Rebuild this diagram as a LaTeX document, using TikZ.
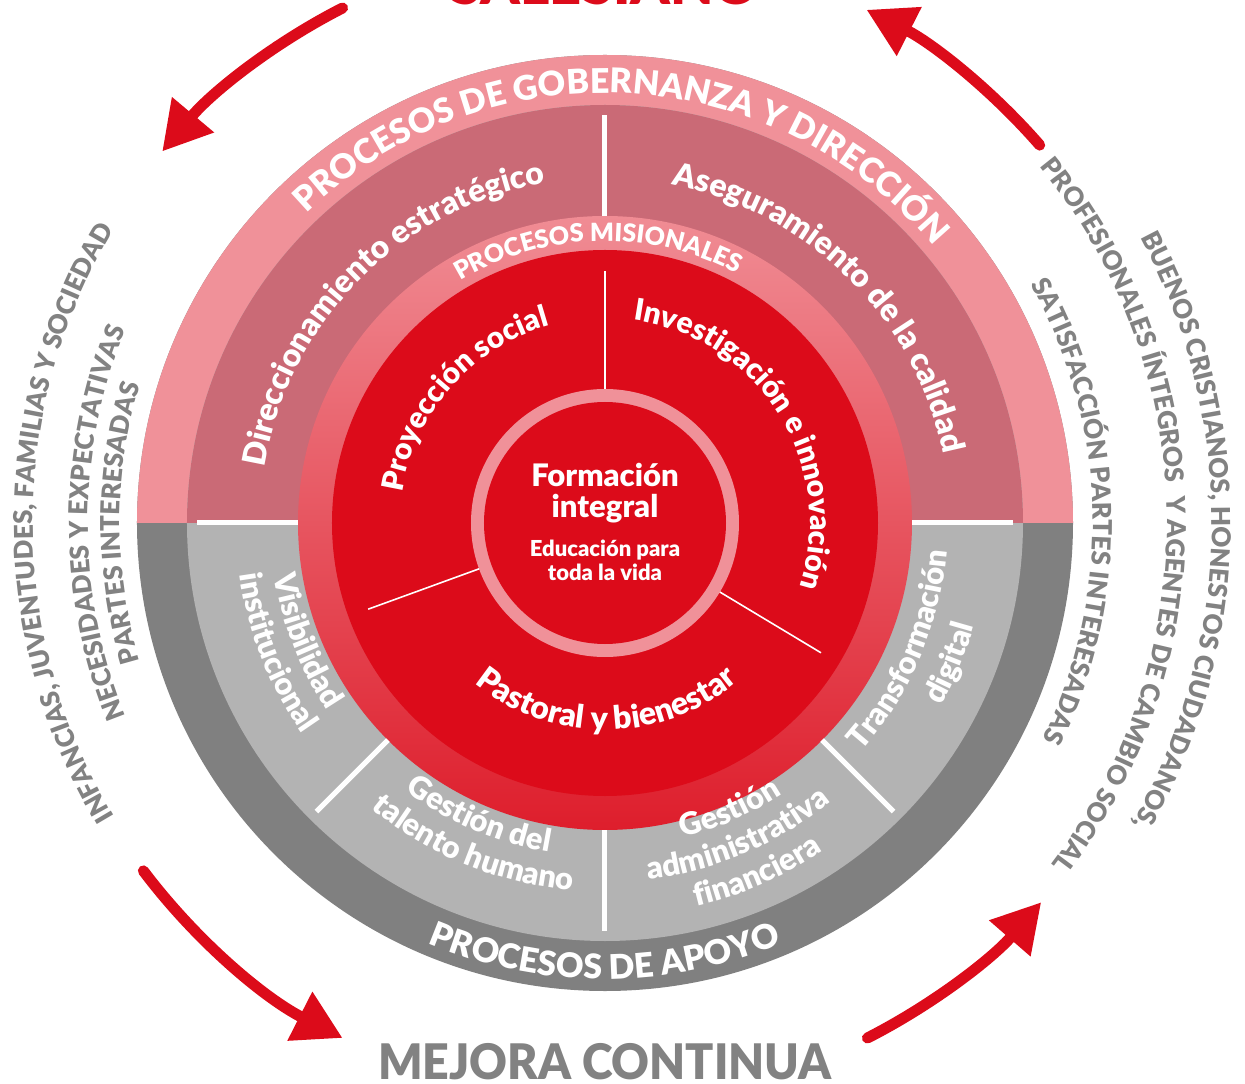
\documentclass[tikz,border=0pt]{standalone}
\usepackage{fontspec}
\setmainfont{Lato}
\IfFontExistsTF{Lato Black}{\newfontfamily\heavyfont{Lato Black}}{\newcommand\heavyfont{\bfseries}}
\usetikzlibrary{decorations.text,arrows.meta}

\definecolor{pinkL}{RGB}{240,145,153}
\definecolor{pinkD}{RGB}{202,106,118}
\definecolor{grayD}{RGB}{128,128,128}
\definecolor{grayL}{RGB}{179,179,179}
\definecolor{redM}{RGB}{220,11,26}
\definecolor{misTop}{RGB}{240,140,148}
\definecolor{misBot}{RGB}{222,30,44}
\definecolor{txtGray}{RGB}{130,130,130}

\newcommand\fsz[1]{\fontsize{#1}{#1}\selectfont\heavyfont}
% clockwise curved text: center angle, radius, size, colour, text
\newcommand\cwtext[5]{%
  \path[decorate,decoration={text along path,text align=center,text color=#4,
        text={|\fsz{#3}|#5}}]
    ({#1+80}:#2) arc[start angle={#1+80},end angle={#1-80},radius=#2];}
% counter-clockwise curved text
\newcommand\ccwtext[5]{%
  \path[decorate,decoration={text along path,text align=center,text color=#4,
        text={|\fsz{#3}|#5}}]
    ({#1-80}:#2) arc[start angle={#1-80},end angle={#1+80},radius=#2];}

\tikzset{
  redarrow/.style={draw=redM,line width=11pt,line cap=round,
                   -{Triangle[length=48pt 0,width=52pt 0]}},
  bigdiv/.style={draw=white,line width=5pt},
  smalldiv/.style={draw=white,line width=1.6pt},
  ctext/.style={text=white,inner sep=0pt,anchor=base},
}

\begin{document}
\begin{tikzpicture}[x=1pt,y=1pt]
\useasboundingbox (-605,-561) rectangle (640,523);
\fill[white] (-605,-561) rectangle (640,523);

% top title (cut off)
\node[font=\fsz{56},text=redM,inner sep=0pt,anchor=base] (sal) at (0,518) {SALESIANO};

% rings
\fill[grayD] (0,0) circle[radius=468];
\fill[pinkL] (468,0) arc[start angle=0,end angle=180,radius=468] -- cycle;
\fill[grayL] (0,0) circle[radius=418];
\fill[pinkD] (418,0) arc[start angle=0,end angle=180,radius=418] -- cycle;
\shade[top color=misTop,bottom color=misBot] (0,0) circle[radius=307];
\fill[redM] (0,0) circle[radius=273];
\fill[pinkL] (0,0) circle[radius=134];
\fill[redM] (0,0) circle[radius=121];

% dividers
\foreach \a in {0,90,180,225,270,315} \draw[bigdiv] (\a:307) -- (\a:408);
\foreach \a in {90,200,329} \draw[smalldiv] (\a:134) -- (\a:252);

% ring texts
\cwtext{87}{430}{34}{white}{PROCESOS DE GOBERNANZA Y DIRECCIÓN}
\cwtext{135.3}{345}{32}{white}{Direccionamiento estratégico}
\cwtext{45.2}{345}{32}{white}{Aseguramiento de la calidad}
\cwtext{91.5}{282}{25}{white}{PROCESOS MISIONALES}
\cwtext{138.5}{205}{30}{white}{Proyección social}
\cwtext{32}{205}{30}{white}{Investigación e innovación}
\ccwtext{270.5}{207}{32}{white}{Pastoral y bienestar}

\ccwtext{201.5}{335}{31}{white}{Visibilidad}
\ccwtext{201.5}{369}{31}{white}{institucional}
\ccwtext{246.8}{334}{31}{white}{Gestión del}
\ccwtext{247.8}{369}{31}{white}{talento humano}
\ccwtext{293.5}{324}{31}{white}{Gestión}
\ccwtext{293}{359}{31}{white}{administrativa}
\ccwtext{293.5}{394}{31}{white}{financiera}
\ccwtext{336.8}{343}{31}{white}{Transformación}
\ccwtext{338}{383}{31}{white}{digital}
\ccwtext{270}{456}{34}{white}{PROCESOS DE APOYO}

% outer texts
\cwtext{180}{572}{26}{txtGray}{INFANCIAS, JUVENTUDES, FAMILIAS Y SOCIEDAD}
\cwtext{180}{517}{26}{txtGray}{NECESIDADES Y EXPECTATIVAS}
\cwtext{180}{485}{26}{txtGray}{PARTES INTERESADAS}
\cwtext{-0.8}{607}{26}{txtGray}{BUENOS CRISTIANOS, HONESTOS CIUDADANOS,}
\cwtext{1}{562}{26}{txtGray}{PROFESIONALES ÍNTEGROS {\kern7pt}Y AGENTES DE CAMBIO SOCIAL}
\cwtext{1.5}{488}{26}{txtGray}{SATISFACCIÓN PARTES INTERESADAS}

% centre
\node[ctext,font=\fsz{31}] (f1) at (0,36) {Formación};
\node[ctext,font=\fsz{31}] (f2) at (0,5) {integral};
\node[ctext,font=\fsz{22}] (e1) at (0,-34) {Educación para};
\node[ctext,font=\fsz{22}] (e2) at (0,-57) {toda la vida};

% arrows
\draw[redarrow] (117:578) arc[start angle=117,end angle=140,radius=578];
\draw[redarrow] (41:576) arc[start angle=41,end angle=63,radius=576];
\draw[redarrow] (217:578) arc[start angle=217,end angle=243,radius=578];
\draw[redarrow] (297:578) arc[start angle=297,end angle=319,radius=578];

\node[font=\fsz{49},text=txtGray,inner sep=0pt,anchor=base,xscale=0.95] (mc) at (0,-556) {MEJORA CONTINUA};
\end{tikzpicture}
\end{document}
